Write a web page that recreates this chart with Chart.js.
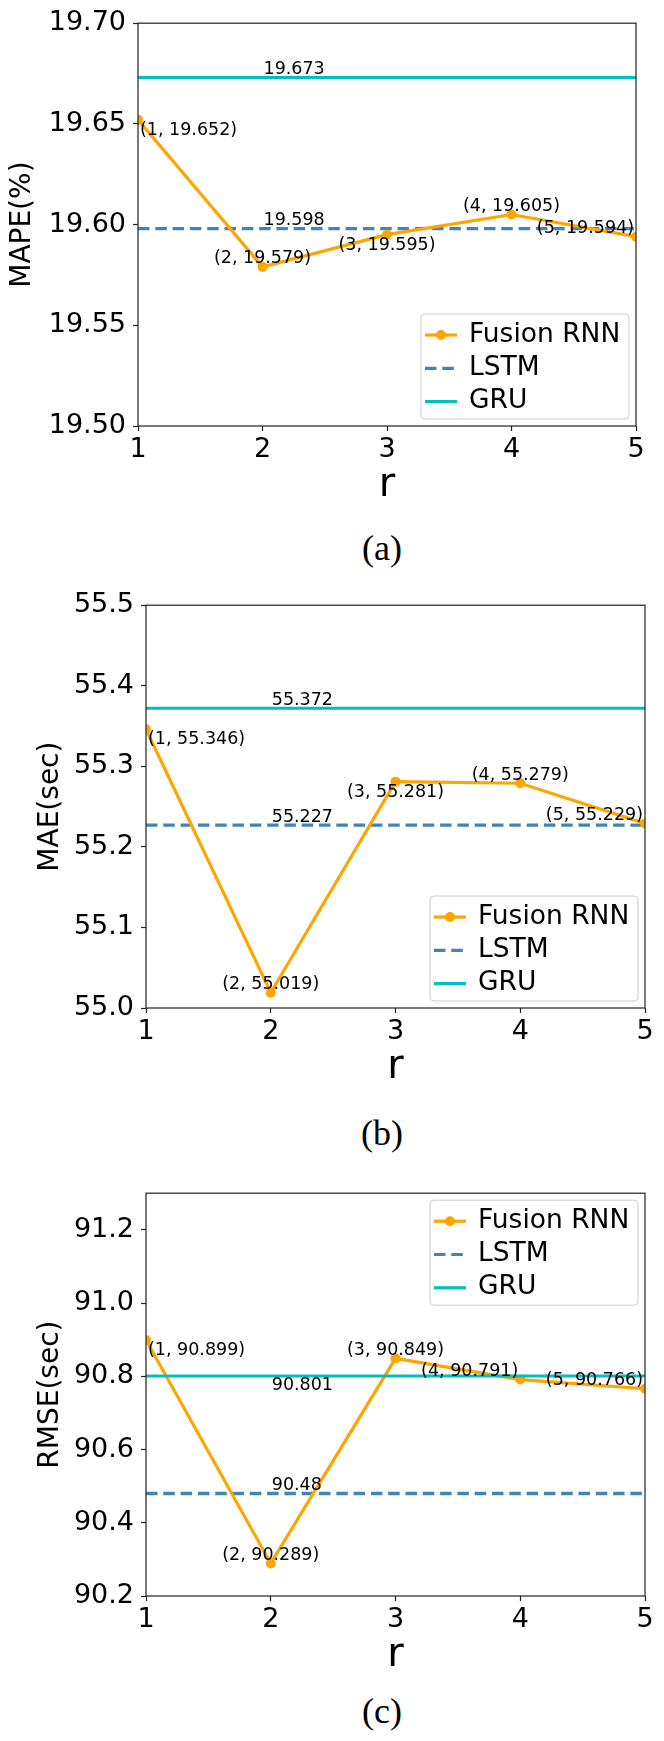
<!DOCTYPE html>
<html>
<head>
<meta charset="utf-8">
<script src="https://cdn.jsdelivr.net/npm/chart.js@4.4.1/dist/chart.umd.min.js"></script>
<style>
    body { margin: 0; background: #fff; width: 664px; height: 1741px; position: relative; overflow: hidden; }
    .panel { position: absolute; left: 0; }
    .caption { position: absolute; left: 332px; width: 100px; text-align: center;
               font-family: "Liberation Serif", "Times New Roman", serif; font-size: 36px; line-height: 36px; }
</style>
</head>
<body>
<div class="panel" style="top:0px"><canvas id="mapeChart" width="664" height="516"></canvas></div>
<div class="caption" style="top:530px">(a)</div>
<div class="panel" style="top:582px"><canvas id="maeChart" width="664" height="516"></canvas></div>
<div class="caption" style="top:1115px">(b)</div>
<div class="panel" style="top:1170px"><canvas id="rmseChart" width="664" height="516"></canvas></div>
<div class="caption" style="top:1693px">(c)</div>

<script>
// ===== DATA =====
const R = [1, 2, 3, 4, 5];

const MAPE_FUSION = [19.652, 19.579, 19.595, 19.605, 19.594];
const MAPE_LSTM = 19.598;
const MAPE_GRU = 19.673;
const MAPE_TICKS = [19.50, 19.55, 19.60, 19.65, 19.70];

const MAE_FUSION = [55.346, 55.019, 55.281, 55.279, 55.229];
const MAE_LSTM = 55.227;
const MAE_GRU = 55.372;
const MAE_TICKS = [55.0, 55.1, 55.2, 55.3, 55.4, 55.5];

const RMSE_FUSION = [90.899, 90.289, 90.849, 90.791, 90.766];
const RMSE_LSTM = 90.48;
const RMSE_GRU = 90.801;
const RMSE_TICKS = [90.2, 90.4, 90.6, 90.8, 91.0, 91.2];

// where each point label sits: b = below, a = above, l/r = left/right aligned
const MAPE_PLACES = ['bl', 'a', 'b', 'a', 'ar'];
const MAE_PLACES = ['bl', 'a', 'b', 'a', 'ar'];
const RMSE_PLACES = ['bl', 'a', 'a', 'ar', 'ar'];

const ORANGE = '#FFA500';
const STEEL = '#4682B4';
const CYAN = '#00BFBF';
const FONT = '"DejaVu Sans", sans-serif';
const LSTM_DASH = [11.5, 5.8];

// ===== DECORATION PLUGIN (frame, labels, legend) =====
const decor = {
    id: 'decor',
    afterDatasetsDraw(chart, args, opts) {
        const { ctx, chartArea: a, scales: { x, y } } = chart;
        ctx.save();

        // axes frame
        ctx.strokeStyle = '#222';
        ctx.lineWidth = 1.2;
        ctx.strokeRect(a.left, a.top, a.width, a.height);

        // point labels
        ctx.fillStyle = '#000';
        ctx.font = '17.5px ' + FONT;
        ctx.textBaseline = 'alphabetic';
        chart.data.datasets[0].data.forEach((p, i) => {
            const px = x.getPixelForValue(p.x);
            const py = y.getPixelForValue(p.y);
            const place = opts.places[i];
            let bx = px;
            ctx.textAlign = 'center';
            if (place.includes('l')) { ctx.textAlign = 'left'; bx = px + 2; }
            if (place.includes('r')) { ctx.textAlign = 'right'; bx = px - 2; }
            const by = place[0] === 'a' ? py - 3.4 : py + 15;
            ctx.fillText('(' + p.x + ', ' + p.y + ')', bx, by);
        });

        // baseline value labels
        ctx.textAlign = 'left';
        opts.lines.forEach(l => {
            const ly = y.getPixelForValue(l.value);
            const lx = x.getPixelForValue(R[1]) + 1;
            ctx.fillText(String(l.value), lx, l.below ? ly + 14 : ly - 3.5);
        });

        // legend
        const w = 208, h = 105;
        const bx = a.right - 7 - w;
        const by = opts.legendTop ? a.top + 7 : a.bottom - 7 - h;
        ctx.beginPath();
        ctx.roundRect(bx, by, w, h, 4);
        ctx.fillStyle = 'rgba(255,255,255,0.8)';
        ctx.fill();
        ctx.strokeStyle = '#cccccc';
        ctx.lineWidth = 1;
        ctx.stroke();

        const rows = [
            { label: 'Fusion RNN', color: ORANGE, dash: [], marker: true },
            { label: 'LSTM', color: STEEL, dash: LSTM_DASH, marker: false },
            { label: 'GRU', color: CYAN, dash: [], marker: false }
        ];
        ctx.font = '26.5px ' + FONT;
        rows.forEach((row, i) => {
            const ry = by + 21 + i * 33.3;
            ctx.strokeStyle = row.color;
            ctx.lineWidth = 3.2;
            ctx.setLineDash(row.dash);
            ctx.beginPath();
            ctx.moveTo(bx + 4, ry);
            ctx.lineTo(bx + 36, ry);
            ctx.stroke();
            ctx.setLineDash([]);
            if (row.marker) {
                ctx.fillStyle = row.color;
                ctx.beginPath();
                ctx.arc(bx + 20, ry, 5, 0, Math.PI * 2);
                ctx.fill();
            }
            ctx.fillStyle = '#000';
            ctx.textAlign = 'left';
            ctx.fillText(row.label, bx + 48, ry + 6.5);
        });

        ctx.restore();
    }
};

// ===== CHART BUILDER =====
function buildChart(id, cfg) {
    const fusionPts = R.map((r, i) => ({ x: r, y: cfg.fusion[i] }));
    const flat = v => [{ x: R[0], y: v }, { x: R[R.length - 1], y: v }];

    return new Chart(document.getElementById(id), {
        type: 'line',
        data: {
            datasets: [
                {
                    label: 'Fusion RNN', data: fusionPts, order: 1,
                    borderColor: ORANGE, backgroundColor: ORANGE, borderWidth: 3.2,
                    pointRadius: 5, pointBorderWidth: 0, pointBackgroundColor: ORANGE,
                    tension: 0, clip: 0
                },
                {
                    label: 'LSTM', data: flat(cfg.lstm), order: 2,
                    borderColor: STEEL, borderWidth: 3.4, borderDash: LSTM_DASH,
                    pointRadius: 0, clip: 0
                },
                {
                    label: 'GRU', data: flat(cfg.gru), order: 0,
                    borderColor: CYAN, borderWidth: 3,
                    pointRadius: 0, clip: 0
                }
            ]
        },
        options: {
            responsive: false,
            animation: false,
            devicePixelRatio: 1,
            layout: { padding: { top: 22, right: 664 - cfg.right, left: 0, bottom: 0 } },
            plugins: {
                legend: { display: false },
                tooltip: { enabled: false },
                decor: { places: cfg.places, lines: cfg.lines, legendTop: cfg.legendTop }
            },
            scales: {
                x: {
                    type: 'linear', min: R[0], max: R[R.length - 1],
                    afterBuildTicks: s => { s.ticks = R.map(v => ({ value: v })); },
                    afterFit: s => { s.height = 90; },
                    border: { display: false },
                    grid: { display: true, drawOnChartArea: false, drawTicks: true, tickLength: 5, color: '#222', tickWidth: 1.2 },
                    ticks: { padding: 3, color: '#000', font: { family: FONT, size: 27, lineHeight: 1.2 } },
                    title: { display: true, text: 'r', color: '#000', padding: { top: 0, bottom: 6.5 },
                             font: { family: FONT, size: 40, lineHeight: 1.2 } }
                },
                y: {
                    type: 'linear', min: cfg.ymin, max: cfg.ymax,
                    afterBuildTicks: s => { s.ticks = cfg.ticks.map(v => ({ value: v })); },
                    afterFit: s => { s.width = cfg.left; },
                    border: { display: false },
                    grid: { display: true, drawOnChartArea: false, drawTicks: true, tickLength: 5, color: '#222', tickWidth: 1.2 },
                    ticks: {
                        padding: 7, color: '#000', font: { family: FONT, size: 27, lineHeight: 1.2 },
                        callback: v => v.toFixed(cfg.decimals)
                    },
                    title: { display: true, text: cfg.ylabel, color: '#000', padding: { top: cfg.titlePad, bottom: 0 },
                             font: { family: FONT, size: 28, lineHeight: 1.2 } }
                }
            }
        },
        plugins: [decor]
    });
}

// ===== INITIALIZE =====
buildChart('mapeChart', {
    fusion: MAPE_FUSION, lstm: MAPE_LSTM, gru: MAPE_GRU, ticks: MAPE_TICKS,
    ymin: 19.50, ymax: 19.70, decimals: 2, ylabel: 'MAPE(%)', titlePad: 6,
    left: 138, right: 636, places: MAPE_PLACES, legendTop: false,
    lines: [{ value: MAPE_GRU, below: false }, { value: MAPE_LSTM, below: false }]
});

buildChart('maeChart', {
    fusion: MAE_FUSION, lstm: MAE_LSTM, gru: MAE_GRU, ticks: MAE_TICKS,
    ymin: 55.0, ymax: 55.5, decimals: 1, ylabel: 'MAE(sec)', titlePad: 34,
    left: 146, right: 645, places: MAE_PLACES, legendTop: false,
    lines: [{ value: MAE_GRU, below: false }, { value: MAE_LSTM, below: false }]
});

buildChart('rmseChart', {
    fusion: RMSE_FUSION, lstm: RMSE_LSTM, gru: RMSE_GRU, ticks: RMSE_TICKS,
    ymin: 90.2, ymax: 91.3, decimals: 1, ylabel: 'RMSE(sec)', titlePad: 34,
    left: 146, right: 645, places: RMSE_PLACES, legendTop: true,
    lines: [{ value: RMSE_GRU, below: true }, { value: RMSE_LSTM, below: false }]
});
</script>
</body>
</html>
